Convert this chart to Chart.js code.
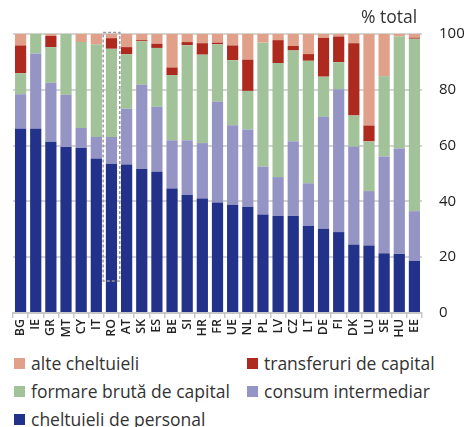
<!DOCTYPE html>
<html lang="ro">
<head>
  <meta charset="UTF-8" />
  <title>Structura cheltuielilor</title>
  <script src="https://cdn.jsdelivr.net/npm/chart.js"></script>
  <style>
    body { margin: 0; background: #fff; font-family: "Open Sans", sans-serif; color: #333; }
    #wrap { position: relative; width: 466px; height: 427px; }
    #unit { position: absolute; left: 361px; top: 4px; font-size: 17.5px; color: #333; }
    #legend { position: absolute; left: 14px; top: 351px; display: grid; grid-template-columns: 233px 220px; row-gap: 4px; font-size: 17.5px; line-height: 24px; }
    #legend div { display: flex; align-items: center; white-space: nowrap; }
    #legend span { display: inline-block; width: 11px; height: 11px; margin-right: 6px; }
  </style>
</head>
<body>
<div id="wrap">
  <canvas id="chart" width="466" height="339"></canvas>
  <div id="unit">% total</div>
  <div id="legend"></div>
</div>
<script>
  const countries = ['BG','IE','GR','MT','CY','IT','RO','AT','SK','ES','BE','SI','HR','FR','UE','NL','PL','LV','CZ','LT','DE','FI','DK','LU','SE','HU','EE'];
  const personal  = [66.0, 66.0, 61.4, 59.5, 59.1, 55.4, 53.5, 53.2, 51.6, 50.6, 44.6, 42.4, 41.0, 39.6, 38.8, 38.1, 35.3, 34.9, 34.9, 31.3, 30.2, 29.0, 24.5, 24.2, 21.4, 21.2, 18.7];
  const consum    = [12.4, 27.0, 21.1, 18.7, 7.2, 7.7, 9.6, 20.0, 30.2, 23.3, 17.3, 19.5, 19.9, 36.1, 28.5, 27.7, 17.2, 13.8, 26.6, 15.2, 40.1, 51.2, 35.2, 19.5, 34.7, 37.8, 17.8];
  const formare   = [7.5, 7.0, 12.8, 21.8, 30.8, 33.1, 31.6, 19.6, 15.6, 21.1, 23.4, 34.1, 31.7, 20.6, 23.3, 13.8, 44.4, 40.9, 32.6, 43.9, 14.4, 9.7, 11.1, 17.8, 28.8, 40.1, 61.8];
  const transfer  = [10.0, 0, 4.0, 0, 0, 0, 3.8, 2.5, 0.4, 1.5, 2.7, 1.1, 4.1, 0.6, 5.3, 11.2, 0, 8.2, 1.6, 2.4, 13.9, 9.2, 25.9, 5.7, 0, 0, 0.4];
  const alte      = [4.1, 0, 0.7, 0, 2.9, 3.8, 1.5, 4.7, 2.2, 3.5, 12.0, 2.9, 3.3, 3.1, 4.1, 9.2, 3.1, 2.2, 4.3, 7.2, 1.4, 0.9, 3.3, 32.8, 15.1, 0.9, 1.3];
  const yTicks = [0, 20, 40, 60, 80, 100];

  const series = [
    { label: 'cheltuieli de personal', data: personal, color: '#22318a' },
    { label: 'consum intermediar', data: consum, color: '#9494c5' },
    { label: 'formare brută de capital', data: formare, color: '#a2c39a' },
    { label: 'transferuri de capital', data: transfer, color: '#ae2a1e' },
    { label: 'alte cheltuieli', data: alte, color: '#e0a08a' }
  ];
  const legendOrder = ['alte cheltuieli', 'transferuri de capital', 'formare brută de capital', 'consum intermediar', 'cheltuieli de personal'];

  // highlight box around RO
  const highlightIndex = 6;
  const highlightFrom = 11.5;
  const highlightTo = 100.5;

  const highlightBox = {
    id: 'highlightBox',
    afterDatasetsDraw(chart) {
      const { ctx, scales: { x, y } } = chart;
      const cx = x.getPixelForValue(highlightIndex);
      const half = x.width / countries.length * 0.55;
      ctx.save();
      ctx.strokeStyle = '#9a9a9a';
      ctx.lineWidth = 1.5;
      ctx.setLineDash([3, 2]);
      ctx.strokeRect(cx - half, y.getPixelForValue(highlightTo), half * 2, y.getPixelForValue(highlightFrom) - y.getPixelForValue(highlightTo));
      ctx.restore();
    }
  };

  new Chart(document.getElementById('chart'), {
    type: 'bar',
    data: {
      labels: countries,
      datasets: series.map(s => ({
        label: s.label,
        data: s.data,
        backgroundColor: s.color,
        borderWidth: 0,
        barPercentage: 0.74,
        categoryPercentage: 1
      }))
    },
    options: {
      responsive: false,
      animation: false,
      layout: { padding: { left: 13, top: 34, right: 0, bottom: 0 } },
      plugins: { legend: { display: false }, tooltip: { enabled: false } },
      scales: {
        x: {
          stacked: true,
          grid: { display: true, drawOnChartArea: false, offset: true, tickLength: 5, color: '#c8c8c8', lineWidth: 1.5 },
          border: { color: '#c8c8c8', width: 2 },
          ticks: { autoSkip: false, minRotation: 90, maxRotation: 90, padding: 1, color: '#222', font: { family: 'Open Sans', size: 12.5, weight: '600' } }
        },
        y: {
          stacked: true,
          position: 'right',
          min: 0,
          max: 100,
          afterBuildTicks: axis => { axis.ticks = yTicks.map(v => ({ value: v })); },
          afterFit: axis => { axis.width = 44; },
          grid: { color: '#d4d4d4', lineWidth: 2, drawTicks: false },
          border: { display: false },
          ticks: { padding: 17, color: '#222', font: { family: 'Open Sans', size: 15 } }
        }
      }
    },
    plugins: [highlightBox]
  });

  const legend = document.getElementById('legend');
  legendOrder.forEach(name => {
    const s = series.find(d => d.label === name);
    const item = document.createElement('div');
    item.innerHTML = '<span style="background:' + s.color + '"></span>' + s.label;
    legend.appendChild(item);
  });
</script>
</body>
</html>
